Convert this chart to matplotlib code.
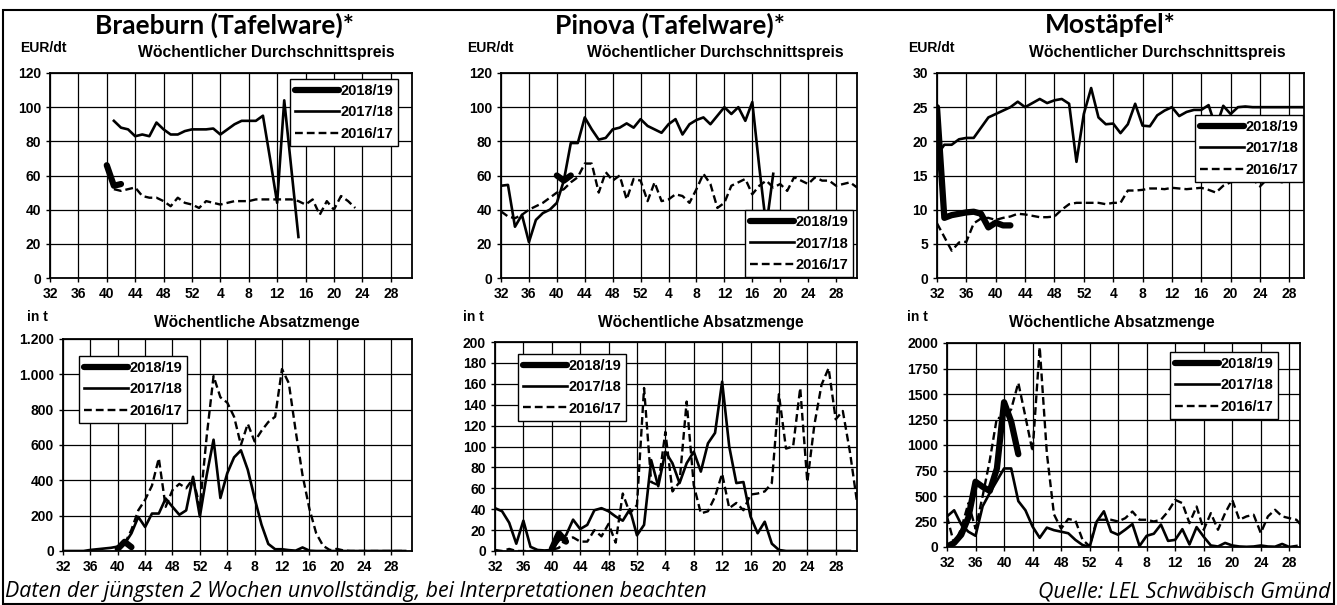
import numpy as np
import matplotlib.pyplot as plt
from matplotlib.patches import Rectangle
from matplotlib.font_manager import FontProperties

plt.rcParams['font.family'] = ['Liberation Sans', 'DejaVu Sans']

# x axis: marketing weeks 32..52, then 1..31
week_ticks = [32, 36, 40, 44, 48, 52, 4, 8, 12, 16, 20, 24, 28]
seasons = ['2018/19', '2017/18', '2016/17']

# ---- Braeburn (Tafelware) ----
bb_preis_1819_start, bb_preis_1819 = 40, [66, 54, 55]
bb_preis_1718_start = 41
bb_preis_1718 = [92, 88, 87, 83, 84, 83, 91, 87, 84, 84, 86, 87, 87, 87, 87.5, 84,
                 87, 90, 92, 92, 92, 95, 70, 44, 104, 64, 24]
bb_preis_1617_start = 41
bb_preis_1617 = [52, 51, 52, 53, 48, 47, 47, 45, 42, 47, 44, 43, 41, 45, 44, 43, 44,
                 45, 45, 45, 46, 46, 46, 46, 46, 46, 45, 43, 46, 37, 45, 40, 48, 45, 41]

bb_menge_1819_start, bb_menge_1819 = 40, [12, 52, 22]
bb_menge_1718_start = 32
bb_menge_1718 = [0, 0, 0, 0, 6, 10, 14, 18, 25, 40,
                 100, 193, 136, 212, 212, 297, 250, 205, 230, 420,
                 195, 430, 630, 300, 440, 530, 570, 460, 300, 150,
                 40, 10, 10, 5, 2, 20, 2, 0, 0, 0,
                 0, 0, 0, 0, 0, 0, 0, 0, 0, 0, 0]
bb_menge_1617_start = 41
bb_menge_1617 = [40, 120, 230, 290, 370, 525, 250, 345, 380, 355,
                 410, 250, 650, 990, 870, 840, 760, 600, 720, 620,
                 680, 730, 760, 1030, 950, 680, 430, 240, 100, 30,
                 5, 12, 3, 0, 0, 0, 0, 0, 0, 0, 0, 0]

# ---- Pinova (Tafelware) ----
pi_preis_1819_start, pi_preis_1819 = 40, [60, 57, 60]
pi_preis_1718_start = 32
pi_preis_1718 = [54, 54.5, 30, 37, 21, 34, 38, 40, 44, 57,
                 79, 79, 94, 87, 81, 82, 87, 88, 90.5, 88,
                 93, 89, 87, 85, 90, 93, 84, 90, 92.5, 94,
                 90, 95, 100, 96, 100, 92, 103, 65, 30, 61]
pi_preis_1617_start = 32
pi_preis_1617 = [39, 36, 35, 37, 40, 42, 44, 47, 50, 52,
                 56, 59, 67, 67, 50, 62, 57, 60, 46, 58,
                 57, 45, 56, 45, 46, 49, 48, 44, 52, 61,
                 55, 41, 44, 54, 56, 58, 49, 54, 57, 53,
                 55, 51, 59, 57, 55, 59, 57, 57, 54, 55,
                 56, 53]

pi_menge_1819_start, pi_menge_1819 = 40, [2, 17, 9]
pi_menge_1718_start = 32
pi_menge_1718 = [41, 38, 27, 7, 29, 4, 1, 0.5, 1, 10,
                 15, 30, 21, 25, 39, 41, 38, 33, 29, 40,
                 15, 25, 87, 62, 95, 84, 65, 84, 95, 76,
                 103, 113, 162, 100, 65, 66, 33, 17, 28, 7,
                 1, 0, 0, 0, 0, 0, 0, 0, 0, 0, 0]
pi_menge_1617_start = 32
pi_menge_1617 = [1, 0, 2, 0, 0, 0, 0, 0, 1, 3,
                 12, 13, 9, 9, 20, 14, 26, 8, 55, 36,
                 44, 156, 66, 63, 114, 57, 66, 143, 63, 36,
                 38, 52, 74, 41, 46, 39, 54, 55, 57, 65,
                 150, 98, 100, 156, 66, 121, 159, 175, 126, 134,
                 95, 47]

# ---- Mostäpfel ----
mo_preis_1819_start = 32
mo_preis_1819 = [25, 8.8, 9.2, 9.4, 9.6, 9.7, 9.4, 7.4, 8.1, 7.7, 7.7]
mo_preis_1718_start = 32
mo_preis_1718 = [18, 19.5, 19.5, 20.3, 20.5, 20.5, 22, 23.5, 24, 24.5,
                 25, 25.8, 25, 25.6, 26.2, 25.6, 26, 26.2, 25.5, 17,
                 24, 27.8, 23.5, 22.5, 22.6, 21.2, 22.5, 25.5, 22.3, 22.2,
                 23.8, 24.5, 25, 23.7, 24.3, 24.6, 24.6, 25.3, 22, 25.2,
                 24, 25, 25.1, 25, 25, 25, 25, 25, 25, 25, 25]
mo_preis_1617_start = 32
mo_preis_1617 = [8, 6, 4, 5.2, 5.3, 8, 8.7, 8.8, 8.5, 8.8,
                 9, 9.4, 9.3, 9.1, 8.9, 8.9, 9.0, 10, 10.8, 11,
                 11, 11, 11, 10.8, 11, 11, 12.8, 12.8, 12.9, 13.1,
                 13.1, 13, 13.2, 13.1, 13, 13.1, 13.2, 12.9, 12.5, 13.5,
                 14, 14.3, 14.4, 14.5, 13.4, 14.5, 14.3, 14, 14.5, 14.3, 14.3]

mo_menge_1819_start = 32
mo_menge_1819 = [5, 40, 120, 290, 640, 590, 550, 770, 1420, 1230, 910]
mo_menge_1718_start = 32
mo_menge_1718 = [300, 360, 220, 150, 110, 400, 530, 650, 770, 770,
                 450, 360, 200, 90, 190, 165, 150, 135, 70, 20,
                 0, 250, 350, 150, 120, 170, 225, 10, 110, 130,
                 220, 60, 70, 175, 25, 195, 100, 15, 5, 40,
                 15, 5, 2, 5, 15, 5, 3, 30, 0, 10]
mo_menge_1617_start = 32
mo_menge_1617 = [300, 30, 180, 430, 180, 500, 850, 1270, 1250, 1350,
                 1610, 1277, 935, 1960, 920, 320, 180, 275, 260, 72,
                 7, 267, 267, 267, 250, 283, 348, 267, 267, 250,
                 267, 348, 462, 430, 234, 397, 169, 332, 169, 332,
                 462, 267, 300, 316, 137, 300, 365, 300, 283, 267, 186]


def pos(week):
    return week - 32 if week >= 32 else week + 20


W, H = 1337, 605
fig = plt.figure(figsize=(W / 100, H / 100), dpi=100)


def px(x, y):
    return x / W, 1 - y / H


def box(left, top, right, bottom):
    return [left / W, 1 - bottom / H, (right - left) / W, (bottom - top) / H]


styles = {
    '2018/19': dict(color='black', lw=4.5, solid_capstyle='round', solid_joinstyle='round'),
    '2017/18': dict(color='black', lw=1.9, solid_joinstyle='round'),
    '2016/17': dict(color='black', lw=1.7, linestyle=(0, (3.3, 1.7))),
}
legend_font = FontProperties(family='Liberation Sans', weight='bold', size=10.5)


def panel(rect, series, yticks, ylabels, xmax, leg_loc, leg_anchor):
    ax = fig.add_axes(rect)
    handles = {}
    for season in ['2016/17', '2017/18', '2018/19']:
        start, vals = series[season]
        x = np.arange(len(vals)) + pos(start)
        handles[season], = ax.plot(x, vals, label=season, **styles[season])
    ax.set_xlim(0, xmax)
    ax.set_ylim(yticks[0], yticks[-1])
    ax.set_xticks([pos(w) for w in week_ticks])
    ax.set_xticklabels([str(w) for w in week_ticks])
    ax.set_yticks(yticks)
    ax.set_yticklabels(ylabels)
    ax.grid(True, color='black', lw=0.9)
    ax.set_axisbelow(True)
    for s in ax.spines.values():
        s.set_linewidth(1.3)
    ax.tick_params(direction='out', length=3, width=1, labelsize=10, pad=3.5)
    for t in ax.get_xticklabels() + ax.get_yticklabels():
        t.set_fontweight('bold')
    leg = ax.legend(handles=[handles[s] for s in seasons], loc=leg_loc,
                    bbox_to_anchor=leg_anchor, fancybox=False, edgecolor='black',
                    framealpha=1, prop=legend_font,
                    handlelength=3.0, handletextpad=0.1, labelspacing=0.5,
                    borderpad=0.35, borderaxespad=0)
    leg.get_frame().set_linewidth(1.0)
    return ax


# top row: prices
panel(box(50, 73, 412, 278),
      {'2018/19': (bb_preis_1819_start, bb_preis_1819),
       '2017/18': (bb_preis_1718_start, bb_preis_1718),
       '2016/17': (bb_preis_1617_start, bb_preis_1617)},
      list(range(0, 121, 20)), [str(v) for v in range(0, 121, 20)], 51,
      'upper right', (0.961, 0.971))
panel(box(501, 73, 857, 278),
      {'2018/19': (pi_preis_1819_start, pi_preis_1819),
       '2017/18': (pi_preis_1718_start, pi_preis_1718),
       '2016/17': (pi_preis_1617_start, pi_preis_1617)},
      list(range(0, 121, 20)), [str(v) for v in range(0, 121, 20)], 51,
      'lower right', (0.989, 0.005))
panel(box(937, 73, 1304, 278),
      {'2018/19': (mo_preis_1819_start, mo_preis_1819),
       '2017/18': (mo_preis_1718_start, mo_preis_1718),
       '2016/17': (mo_preis_1617_start, mo_preis_1617)},
      list(range(0, 31, 5)), [str(v) for v in range(0, 31, 5)], 50,
      'upper right', (0.997, 0.795))

# bottom row: sales
bb_ticks = list(range(0, 1201, 200))
panel(box(63, 339, 412, 551),
      {'2018/19': (bb_menge_1819_start, bb_menge_1819),
       '2017/18': (bb_menge_1718_start, bb_menge_1718),
       '2016/17': (bb_menge_1617_start, bb_menge_1617)},
      bb_ticks, [f'{v:,}'.replace(',', '.') for v in bb_ticks], 51,
      'upper left', (0.046, 0.92))
panel(box(495, 342, 857, 551),
      {'2018/19': (pi_menge_1819_start, pi_menge_1819),
       '2017/18': (pi_menge_1718_start, pi_menge_1718),
       '2016/17': (pi_menge_1617_start, pi_menge_1617)},
      list(range(0, 201, 20)), [str(v) for v in range(0, 201, 20)], 51,
      'upper left', (0.064, 0.943))
panel(box(947, 343, 1300, 547),
      {'2018/19': (mo_menge_1819_start, mo_menge_1819),
       '2017/18': (mo_menge_1718_start, mo_menge_1718),
       '2016/17': (mo_menge_1617_start, mo_menge_1617)},
      list(range(0, 2001, 250)), [str(v) for v in range(0, 2001, 250)], 49.5,
      'upper right', (0.938, 0.956))

# titles and labels
title_font = dict(family=['Lato', 'DejaVu Sans'], weight='bold', size=19, ha='center', va='center')
for x, t in [(225, 'Braeburn (Tafelware)*'), (670, 'Pinova (Tafelware)*'), (1110, 'Mostäpfel*')]:
    fig.text(*px(x, 25), t, **title_font)

for x in [20, 467, 908]:
    fig.text(*px(x, 48), 'EUR/dt', ha='left', weight='bold', size=10, va='center')
for x in [266, 715, 1157]:
    fig.text(*px(x, 53), 'Wöchentlicher Durchschnittspreis', ha='center',
             weight='bold', size=11.3, va='center')
for x in [27, 463, 907]:
    fig.text(*px(x, 317), 'in t', ha='left', weight='bold', size=10, va='center')
for x in [257, 701, 1112]:
    fig.text(*px(x, 322), 'Wöchentliche Absatzmenge', ha='center',
             weight='bold', size=11.2, va='center')

foot = dict(family=['Open Sans', 'DejaVu Sans'], style='italic', size=15.4, va='center')
fig.text(*px(5, 592), 'Daten der jüngsten 2 Wochen unvollständig, bei Interpretationen beachten',
         ha='left', **foot)
fig.text(*px(1331, 592), 'Quelle: LEL Schwäbisch Gmünd', ha='right', **foot)

fig.patches.append(Rectangle(px(3, 604), 1331 / W, 594 / H, transform=fig.transFigure,
                             fill=False, lw=1.5, ec='black'))

fig.savefig('out.png', dpi=100)
